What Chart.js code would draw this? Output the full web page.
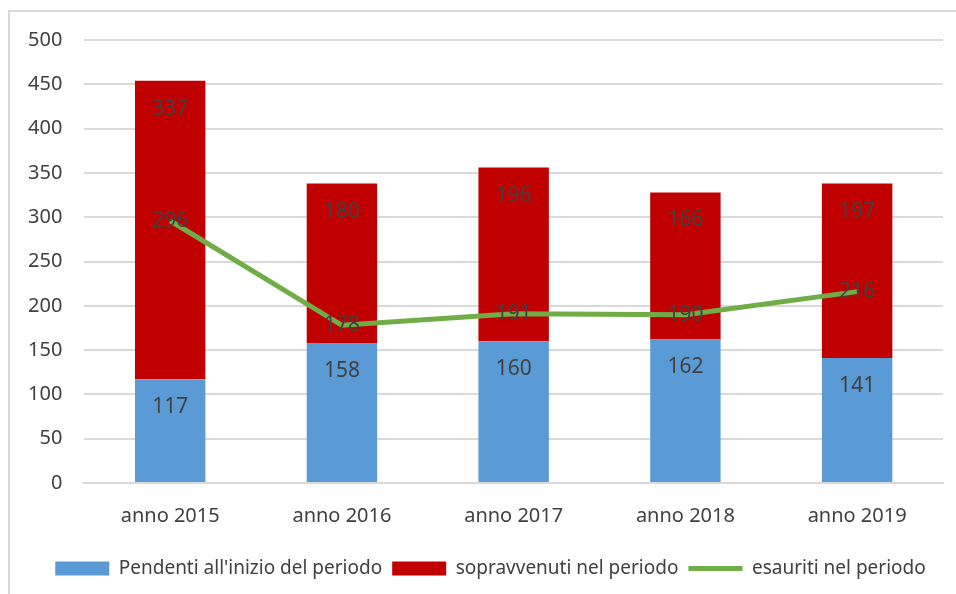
<!DOCTYPE html>
<html>
<head>
<meta charset="utf-8">
<script src="https://cdn.jsdelivr.net/npm/chart.js@4/dist/chart.umd.min.js"></script>
<style>
  html, body { margin: 0; padding: 0; background: #fff; overflow: hidden; }
  #frame {
    position: absolute; left: 8px; top: 10px; width: 1000px; height: 700px;
    border-left: 2px solid #d9d9d9; border-top: 2px solid #d9d9d9;
  }
  #chart { position: absolute; left: 0; top: 0; }
</style>
</head>
<body>
<div id="frame"></div>
<canvas id="chart" width="956" height="594"></canvas>
<script>
// ===============================
// DATA
// ===============================
const categories = ["anno 2015", "anno 2016", "anno 2017", "anno 2018", "anno 2019"];
const pendenti = [117, 158, 160, 162, 141];
const sopravvenuti = [337, 180, 196, 166, 197];
const esauriti = [296, 178, 191, 190, 216];
const yTicks = [0, 50, 100, 150, 200, 250, 300, 350, 400, 450, 500];

const labelColor = "#404040";
const fontFamily = "'Noto Sans', sans-serif";

// ===============================
// VALUE LABELS (inside end for bars, centered for line)
// ===============================
const valueLabels = {
  id: "valueLabels",
  afterDatasetsDraw(chart) {
    const ctx = chart.ctx;
    ctx.save();
    ctx.font = "21px " + fontFamily;
    ctx.fillStyle = labelColor;
    ctx.textAlign = "center";
    ctx.textBaseline = "middle";
    chart.data.datasets.forEach((ds, i) => {
      const meta = chart.getDatasetMeta(i);
      meta.data.forEach((el, j) => {
        const text = String(ds.data[j]);
        if (ds.type === "line") {
          ctx.fillText(text, el.x, el.y);
        } else {
          ctx.fillText(text, el.x, el.y + 28);
        }
      });
    });
    ctx.restore();
  }
};

// nudge the legend a bit to the right, like the original
const legendShift = {
  id: "legendShift",
  afterLayout(chart) {
    if (chart.legend) {
      chart.legend.left += 16;
      chart.legend.right += 16;
    }
  }
};

// ===============================
// CHART
// ===============================
const ctx = document.getElementById("chart").getContext("2d");
new Chart(ctx, {
  data: {
    labels: categories,
    datasets: [
      {
        type: "bar",
        label: "Pendenti all'inizio del periodo",
        data: pendenti,
        backgroundColor: "#5b9bd5",
        stack: "s",
        order: 1,
        pointStyle: "rect"
      },
      {
        type: "bar",
        label: "sopravvenuti nel periodo",
        data: sopravvenuti,
        backgroundColor: "#c00000",
        stack: "s",
        order: 1,
        pointStyle: "rect"
      },
      {
        type: "line",
        label: "esauriti nel periodo",
        data: esauriti,
        borderColor: "#70ad47",
        backgroundColor: "#70ad47",
        borderWidth: 5,
        pointRadius: 0,
        tension: 0,
        order: 0,
        pointStyle: "line"
      }
    ]
  },
  options: {
    responsive: false,
    animation: false,
    layout: { padding: { left: 6, right: 13, top: 40, bottom: 6 } },
    datasets: {
      bar: { barPercentage: 0.41, categoryPercentage: 1 }
    },
    scales: {
      x: {
        stacked: true,
        grid: { display: false, drawTicks: false },
        border: { color: "#d9d9d9", width: 2 },
        ticks: { color: labelColor, font: { family: fontFamily, size: 20 }, padding: 21 }
      },
      y: {
        stacked: true,
        min: 0,
        max: 500,
        afterBuildTicks(scale) { scale.ticks = yTicks.map(v => ({ value: v })); },
        grid: { color: "#d9d9d9", lineWidth: 2, drawTicks: false },
        border: { display: false },
        ticks: { color: labelColor, font: { family: fontFamily, size: 20 }, padding: 22 }
      }
    },
    plugins: {
      legend: {
        position: "bottom",
        labels: {
          usePointStyle: true,
          pointStyleWidth: 54,
          boxHeight: 14,
          padding: 10,
          color: labelColor,
          font: { family: fontFamily, size: 19 },
          sort: (a, b) => a.datasetIndex - b.datasetIndex
        }
      },
      tooltip: { enabled: false }
    }
  },
  plugins: [valueLabels, legendShift]
});
</script>
</body>
</html>
